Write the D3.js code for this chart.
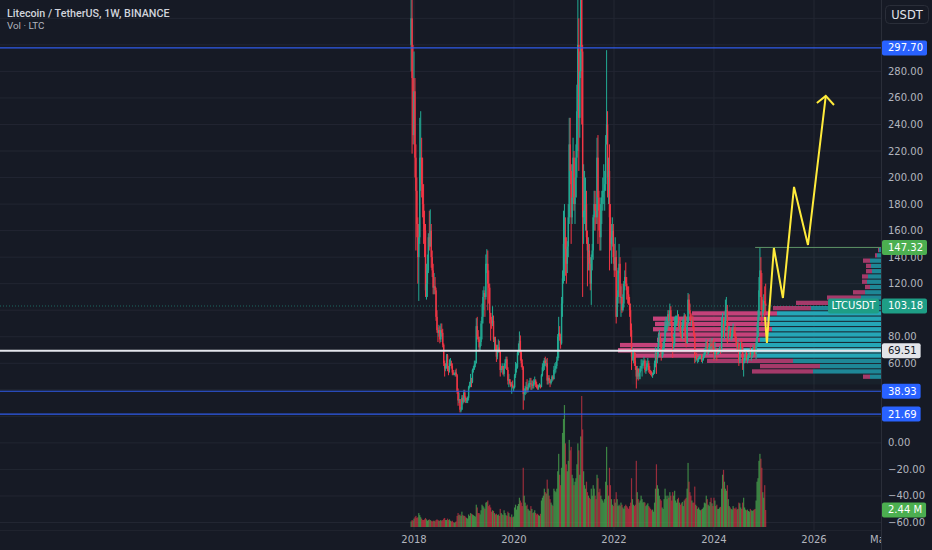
<!DOCTYPE html>
<html><head><meta charset="utf-8">
<script src="https://cdn.jsdelivr.net/npm/d3@7"></script>
<style>html,body{margin:0;padding:0;background:#161a25;overflow:hidden}</style>
</head><body><svg id="c" width="932" height="550"></svg>
<script>
// ---------- DATA (weekly LTC/USDT) ----------
const startWeek = "2017-12-11";
const firstOpen = 300;
const closes = [
320,275,232,
265,215,190,165,140, 155,215,215,195, 180,165,160,115, 120,130,155,148,160, 140,130,117,118, 115,95,85,83, 85,78,85,83,74, 60,56,58,66, 56,55,60,60, 58,53,52,52,53, 51,39,32,33, 25,25,34,31,38,
34,32,32,34, 42,44,47,46, 55,56,59,60, 88,80,78,72,76, 90,95,110,113, 110,135,135,120, 117,98,93,90,92, 78,78,73,65, 70,72,70,55,56, 58,52,56,60, 63,55,47,48, 45,43,44,42,42,
51,56,57,68, 70,77,68,60, 57,37,38,41,42, 40,42,45,45, 44,44,43,46, 47,44,42,41,43, 43,42,51,57, 58,62,60,60,47, 49,47,45,47, 50,48,55,56, 58,62,80,83,80, 75,105,124,150,
155,146,135,148, 170,225,205,170, 185,215,180,185,215, 250,300,245,280, 370,295,170,175,175, 180,155,145,145, 135,120,140,145, 170,180,175,170,215, 185,175,155,180, 185,190,190,195, 225,240,200,205,170, 150,155,160,140,
130,140,95,110,130, 135,110,110,100, 105,120,125,120, 115,112,105,100, 85,65,65,65,62, 58,50,56,50, 53,56,58,60, 60,62,55,55,60, 60,55,54,53, 52,52,53,60,68, 63,70,77,80, 75,65,69,72,
77,88,88,88,97, 92,100,93,80, 72,75,90,92, 92,95,88,89, 82,79,89,91,96, 82,75,90,108, 100,97,92,92,88, 82,64,65,63, 63,64,65,65, 63,63,65,68,70, 76,68,70,71, 75,72,73,72,
67,70,70,67,68, 70,70,69,90, 90,85,88,100, 100,85,85,85,80, 80,85,85,84, 80,76,72,75, 62,70,75,72,62, 62,64,68,64, 64,66,68,66,66, 68,72,70,67, 75,80,95,115, 130,110,100,100,107,
105,103.18];
const highs = [
370,420,300,
295,275,225,200,170, 165,245,250,230, 215,195,175,165, 135,142,158,175,176, 165,145,135,128, 125,117,100,87, 89,88,90,90,86, 75,62,60,67, 67,58,63,64, 62,60,55,53,55, 56,52,41,38, 33,27,36,36,40,
40,35,34,35, 43,46,52,49, 56,58,62,62, 94,95,85,80,80, 92,105,115,118, 115,142,146,145, 130,120,98,95,103, 96,80,80,74, 74,78,77,70,58, 60,58,60,63, 65,65,57,52, 48,46,46,47,43,
52,61,60,70, 75,84,81,70, 63,58,41,43,46, 48,44,47,49, 49,47,47,48, 50,48,46,44,44, 45,44,52,60, 62,64,65,63,64, 51,51,48,48, 51,51,58,60, 61,65,82,95,88, 82,110,130,175,
180,170,155,152, 180,245,245,210, 210,230,220,200,225, 270,335,320,295, 410,413,300,210,205, 200,190,160,155, 150,140,142,150, 172,190,190,180,230, 232,190,180,185, 190,200,210,205, 232,296,250,215,225, 180,165,170,165,
150,155,145,115,132, 150,140,118,120, 112,122,130,136, 125,118,118,110, 105,90,72,70,70, 68,56,58,56, 56,58,63,63, 62,65,63,57,62, 64,62,58,55, 54,53,55,62,72, 68,72,82,85, 82,77,72,76,
79,92,95,94,100, 100,105,103,95, 80,82,95,96, 96,100,97,92, 93,84,93,93,98, 97,83,95,113, 112,105,98,95,96, 90,83,66,68, 64,65,66,66, 67,64,67,71,72, 78,77,72,74, 78,78,79,77,
78,76,72,71,70, 71,73,72,95, 98,94,92,108, 110,104,88,88,86, 82,87,90,87, 88,82,78,78, 76,72,76,78,75, 64,67,70,70, 66,68,70,72,69, 70,74,74,74, 78,90,100,125, 147,140,128,108,112,
118,120];
const lows = [
280,218,225,
225,200,145,155,120, 107,150,190,185, 170,150,140,110, 108,110,128,145,148, 132,125,112,112, 112,92,83,76, 80,75,76,80,72, 58,50,54,56, 54,51,53,58, 56,51,51,51,50, 50,37,28,30, 23,23,25,29,30,
31,30,30,30, 32,41,42,42, 45,53,55,57, 60,78,76,69,70, 73,78,90,100, 95,108,128,100, 105,90,77,86,88, 76,70,70,61, 63,68,68,50,53, 55,51,50,56, 60,55,44,42, 44,42,37,41,39,
41,49,53,56, 66,68,62,57, 55,25,32,36,37, 38,38,41,42, 40,40,41,41, 44,42,41,40,40, 42,41,42,50, 54,55,58,57,44, 44,45,42,44, 46,47,48,52, 53,56,62,64,77, 71,74,95,120,
122,126,120,128, 140,165,195,150, 165,180,175,165,185, 200,220,205,230, 275,240,110,150,165, 160,150,118,130, 130,115,104,130, 138,160,160,165,165, 150,160,145,145, 165,175,180,175, 190,225,185,180,130, 145,135,148,135,
125,130,90,95,105, 128,105,95,98, 99,102,115,118, 108,105,104,95, 80,55,62,60,58, 55,41,48,47, 48,48,54,50, 56,58,53,52,54, 57,53,52,51, 50,49,51,52,57, 52,60,65,74, 72,62,64,66,
70,76,83,84,86, 85,88,90,77, 64,70,73,86, 88,90,86,84, 80,77,78,86,87, 76,72,75,90, 98,93,90,88,86, 80,60,61,62, 60,61,63,63, 61,60,62,64,66, 68,67,66,68, 70,68,70,69,
62,63,66,62,66, 67,68,67,68, 80,80,78,88, 92,75,78,82,78, 77,78,82,81, 78,74,70,70, 58,60,68,70,55, 50,60,62,62, 60,62,64,65,62, 64,66,67,65, 63,72,80,92, 110,100,90,95,98,
95,98];
const volumes = [ // millions of LTC
0.8,1.0,0.9,
1.2,1.4,1.6,1.3,1.4, 2.0,1.7,1.4,1.2, 1.0,1.0,1.1,1.3, 1.1,0.9,1.0,1.1,1.0, 0.9,0.8,0.9,0.9, 0.8,1.0,1.1,1.0, 0.9,0.9,1.0,0.9,1.0, 1.2,1.3,1.0,1.0, 1.2,1.0,1.1,0.9, 0.8,0.9,0.7,0.6,0.7, 0.8,1.6,2.0,1.7, 1.8,1.6,2.2,1.7,1.6,
1.6,1.4,1.3,1.2, 1.8,1.6,2.0,1.9, 1.8,1.7,1.6,1.5, 3.2,2.8,2.0,2.0,1.8, 2.4,3.2,3.0,2.8, 2.6,3.5,3.6,3.8, 3.0,3.2,2.8,2.2,2.4, 2.3,2.0,1.8,1.9, 1.7,1.8,1.6,2.6,2.0, 1.8,1.7,2.4,2.0, 1.7,1.6,2.2,2.0, 1.5,1.4,1.8,1.4,1.5,
2.8,3.2,2.5,3.0, 3.3,4.2,3.8,3.5, 3.0,8.5,4.5,3.5,3.0, 3.2,2.6,2.4,2.3, 3.0,2.6,2.0,2.1, 2.4,2.0,1.8,1.9,1.7, 1.6,1.9,3.8,4.2, 4.5,5.5,5.0,4.8,6.8, 5.5,4.5,4.0,3.5, 3.2,3.0,5.5,5.2, 5.0,5.5,8.0,10.5,7.5, 6.0,8.5,13.5,15.5,
17.5,12.0,9.0,8.0, 9.5,12.5,11.0,11.5, 7.5,7.0,6.0,6.5,7.0, 9.0,12.0,11.0,7.5, 13.0,18.8,14.0,8.0,6.0, 5.5,6.5,5.0,4.5, 4.2,4.0,5.5,4.5, 6.0,5.5,4.5,4.0,7.5, 7.0,5.0,5.5,4.5, 4.0,3.8,3.5,4.0, 6.5,11.5,6.0,4.5,8.5, 6.0,4.0,3.2,3.0,
4.0,3.5,5.0,4.0,3.0, 3.2,3.0,3.5,3.2, 2.8,2.6,3.0,3.2, 3.0,2.8,2.6,3.0, 3.5,7.0,4.0,3.2,3.0, 3.2,9.5,5.0,4.0, 3.5,3.8,4.5,4.0, 3.5,3.6,3.5,3.0,3.2, 3.4,3.0,2.8,2.6, 2.4,2.5,2.2,3.5,5.5, 9.0,6.0,5.5,4.5, 4.0,3.8,2.8,2.6,
4.0,5.5,4.5,4.0,4.5, 4.2,5.0,4.5,3.8, 5.0,4.5,5.2,3.8, 3.5,4.0,4.2,3.5, 3.2,3.4,3.6,3.0,3.8, 4.0,4.2,5.5,9.2, 6.5,5.0,4.5,3.8,3.5, 3.5,5.8,3.2,3.0, 2.6,2.8,2.5,2.4, 2.5,2.6,2.8,3.5,3.4, 4.5,4.0,3.2,3.0, 3.6,4.2,3.4,3.0,
4.2,3.8,3.0,3.2,2.6, 2.6,2.8,2.9,5.5, 7.5,8.2,6.5,5.5, 5.2,6.0,4.0,3.0,2.8, 2.6,2.5,3.0,2.7, 2.6,2.8,2.5,2.6, 3.5,3.4,2.8,2.6,3.5, 4.2,2.8,2.5,2.4, 2.5,2.3,2.2,2.6,2.4, 2.3,2.4,2.5,2.6, 3.8,6.5,7.0,9.5, 10.5,9.8,8.5,5.0,4.2,
6.0,2.44];

// volume profile (fixed range), rows top (147.3) to bottom (~47.9)
const vpTop = 147.3, vpBottom = 47.9;
const vpUp   = [1,2,5.5,5,4.5,6.5,7,5.5,8,10,20,35,52,57,55.5,54.5,57,60.5,62,69,62,44,30.5,34,5.5];
const vpDown = [0.5,1,3.5,2.5,3,3,2.5,2.5,6,17,22.5,19,42.5,57,57.5,59.5,54.5,51.5,68.5,62.5,62,43,30,30.5,3.5];
const vpValueArea = [12, 20];
const vpPoc = 19;
const vpStart = "2022-05-09";

// horizontal levels
const blueLevels = [297.70, 38.93, 21.69];
const whiteLevel = 69.51;
const lastPrice = 103.18;
const highLevel = 147.32, highLevelStart = "2024-10-28";

// yellow projection drawing
const pathDates  = ["2025-01-08","2025-01-22","2025-03-14","2025-05-19","2025-08-08","2025-11-18","2026-03-28"];
const pathPrices = [94.9, 75.3, 146.9, 109.2, 192.9, 149.2, 261.5];
const headDates  = ["2026-01-22","2026-03-28","2026-05-27"];
const headPrices = [256.2, 261.5, 254.7];

// axes (ticks hidden behind the level tags are left out, as in the reference)
const priceTicks = [-60,-40,-20,0,60,80,120,140,160,180,200,220,240,260,280];
const gridPrices = [-60,-40,-20,0,20,40,60,80,100,120,140,160,180,200,220,240,260,280,300,320];
const timeTickDates  = ["2018-01-01","2020-01-01","2022-01-01","2024-01-01","2026-01-01","2027-05-01"];
const timeTickLabels = ["2018","2020","2022","2024","2026","May"];

// ---------- DRAW ----------
const svg = d3.select("#c");
const BG = "#161a25", PR = 881, PB = 530;
const AX = "DejaVu Sans, sans-serif";
const pd = d3.utcParse("%Y-%m-%d");
const x = d3.scaleUtc().domain([pd("2018-01-01"), pd("2026-01-01")]).range([414, 814]);
const y = d3.scaleLinear().domain([-60, 280]).range([522.5, 71.4]);
const yv = d3.scaleLinear().domain([0, 18.8]).range([527, 396]);

svg.append("rect").attr("width",932).attr("height",550).attr("fill",BG);
const defs = svg.append("defs");
defs.append("clipPath").attr("id","pane").append("rect").attr("x",0).attr("y",0).attr("width",PR).attr("height",PB);
defs.append("clipPath").attr("id","taxis").append("rect").attr("x",0).attr("y",PB).attr("width",PR).attr("height",20);
const pane = svg.append("g").attr("clip-path","url(#pane)");

// grid
pane.selectAll(".hg").data(gridPrices).join("line")
  .attr("x1",0).attr("x2",PR).attr("y1",d=>y(d)).attr("y2",d=>y(d))
  .attr("stroke","#222632").attr("stroke-width",1);
pane.selectAll(".vg").data(timeTickDates.slice(0,5)).join("line")
  .attr("x1",d=>x(pd(d))).attr("x2",d=>x(pd(d))).attr("y1",0).attr("y2",PB)
  .attr("stroke","#222632").attr("stroke-width",1);

// candles data
const t0 = pd(startWeek).getTime();
const n = Math.min(closes.length, highs.length, lows.length, volumes.length);
const bars = d3.range(n).map(i => {
  const o = i ? closes[i-1] : firstOpen, c = closes[i];
  return {t: new Date(t0 + i*7*864e5), o, c, h: Math.max(highs[i], o, c), l: Math.min(lows[i], o, c), v: volumes[i], up: c >= o};
});

// volume profile box
const vpx0 = x(pd(vpStart));
pane.append("rect").attr("x",vpx0).attr("y",y(highLevel)).attr("width",PR - vpx0)
  .attr("height",y(44) - y(highLevel)).attr("fill","rgba(70,150,160,0.06)");

// volume bars
pane.selectAll(".vol").data(bars).join("rect")
  .attr("x",d=>x(d.t)-0.6).attr("width",1.2)
  .attr("y",d=>yv(d.v)).attr("height",d=>yv(0)-yv(d.v))
  .attr("fill",d=>d.up ? "rgba(76,175,80,0.72)" : "rgba(232,56,72,0.62)");

// volume profile rows
const step = (vpTop - vpBottom) / vpUp.length;
const wmax = d3.max(vpUp.map((u,i)=>u+vpDown[i]));
const wv = d3.scaleLinear().domain([0, wmax]).range([0, 263]);
const rows = vpUp.map((u,i)=>({i, up:u, down:vpDown[i], pt: vpTop - i*step, pb: vpTop-(i+1)*step}));
const inVA = i => i >= vpValueArea[0] && i <= vpValueArea[1];
const vp = pane.append("g");
rows.forEach(r => {
  const y0 = y(r.pt)+0.5, h = Math.max(1, y(r.pb)-y(r.pt)-1);
  const tealW = wv(r.up), totW = wv(r.up + r.down);
  const poc = r.i === vpPoc;
  vp.append("rect").attr("x",PR-totW).attr("y",y0).attr("width",totW-tealW).attr("height",h)
    .attr("fill", poc ? "#e0588f" : inVA(r.i) ? "#c5427a" : "#a53a6a");
  vp.append("rect").attr("x",PR-tealW).attr("y",y0).attr("width",tealW).attr("height",h)
    .attr("fill", poc ? "#52c4d2" : inVA(r.i) ? "#25a6b7" : "#1e8796");
});

// candles
const cg = pane.append("g");
cg.selectAll("line").data(bars).join("line")
  .attr("x1",d=>x(d.t)).attr("x2",d=>x(d.t)).attr("y1",d=>y(d.h)).attr("y2",d=>y(d.l))
  .attr("stroke",d=>d.up ? "#22ab94" : "#f23645").attr("stroke-width",1);
cg.selectAll("rect").data(bars).join("rect")
  .attr("x",d=>x(d.t)-0.7).attr("width",1.4)
  .attr("y",d=>y(Math.max(d.o,d.c))).attr("height",d=>Math.max(1, Math.abs(y(d.o)-y(d.c))))
  .attr("fill",d=>d.up ? "#22ab94" : "#f23645");

// levels
pane.append("line").attr("x1",0).attr("x2",PR).attr("y1",y(lastPrice)).attr("y2",y(lastPrice))
  .attr("stroke","#22ab94").attr("stroke-opacity",0.55).attr("stroke-dasharray","1 2");
pane.append("line").attr("x1",x(pd(highLevelStart))).attr("x2",PR).attr("y1",y(highLevel)).attr("y2",y(highLevel))
  .attr("stroke","#5f9366").attr("stroke-width",1);
pane.append("line").attr("x1",0).attr("x2",PR).attr("y1",y(whiteLevel)).attr("y2",y(whiteLevel))
  .attr("stroke","#e4e6ec").attr("stroke-width",2);
pane.selectAll(".bl").data(blueLevels).join("line")
  .attr("x1",0).attr("x2",PR).attr("y1",d=>y(d)).attr("y2",d=>y(d))
  .attr("stroke","#2f5bea").attr("stroke-width",1.2);

// yellow projection
const lineGen = d3.line().x(d=>x(pd(d[0]))).y(d=>y(d[1]));
pane.append("path").attr("d", lineGen(pathDates.map((d,i)=>[d,pathPrices[i]])))
  .attr("fill","none").attr("stroke","#ffeb3b").attr("stroke-width",2).attr("stroke-linejoin","miter");
pane.append("path").attr("d", lineGen(headDates.map((d,i)=>[d,headPrices[i]])))
  .attr("fill","none").attr("stroke","#ffeb3b").attr("stroke-width",2);

// header
svg.append("text").attr("x",7).attr("y",16.7).attr("fill","#d1d4dc")
  .attr("font-family","Roboto, sans-serif").attr("font-size",10.75).attr("font-weight",500)
  .text("Litecoin / TetherUS, 1W, BINANCE");
svg.append("text").attr("x",7).attr("y",29.3).attr("fill","#b2b5be")
  .attr("font-family","Roboto, sans-serif").attr("font-size",9.8)
  .text("Vol \u00b7 LTC");

// LTCUSDT tag inside pane
const tagY = y(lastPrice);
svg.append("rect").attr("x",828).attr("y",tagY-7.5).attr("width",51).attr("height",15).attr("rx",2).attr("fill","#1e9e86");
svg.append("text").attr("x",853.5).attr("y",tagY).attr("dy","0.35em").attr("text-anchor","middle")
  .attr("fill","#ffffff").attr("font-family",AX).attr("font-size",10).text("LTCUSDT");

// price axis
svg.append("line").attr("x1",PR+0.5).attr("x2",PR+0.5).attr("y1",0).attr("y2",550).attr("stroke","#2a2e39");
const fmt = d => (d < 0 ? "\u2212" : "") + Math.abs(d).toFixed(2);
svg.selectAll(".pt").data(priceTicks).join("text")
  .attr("x",888).attr("y",d=>y(d)).attr("dy","0.35em")
  .attr("fill","#b2b5be").attr("font-family",AX).attr("font-size",10).text(fmt);

function tag(yy, text, bg, fg) {
  const g = svg.append("g");
  const r = g.append("rect").attr("x",882).attr("y",yy-7.5).attr("height",15).attr("rx",2).attr("fill",bg);
  const t = g.append("text").attr("x",888).attr("y",yy).attr("dy","0.35em").attr("fill",fg)
    .attr("font-family",AX).attr("font-size",10).text(text);
  r.attr("width", t.node().getComputedTextLength() + 10);
}
blueLevels.forEach(v => tag(y(v), v.toFixed(2), "#2962ff", "#ffffff"));
tag(y(highLevel), highLevel.toFixed(2), "#4caf50", "#ffffff");
tag(y(lastPrice), lastPrice.toFixed(2), "#1e9e86", "#ffffff");
tag(y(whiteLevel), whiteLevel.toFixed(2), "#e3e5ea", "#131722");
tag(yv(volumes[n-1]), volumes[n-1].toFixed(2) + " M", "#4caf50", "#ffffff");

// USDT button
svg.append("rect").attr("x",885.5).attr("y",5.5).attr("width",43).attr("height",18).attr("rx",4)
  .attr("fill",BG).attr("stroke","#2a2e39");
svg.append("text").attr("x",907).attr("y",14.5).attr("dy","0.35em").attr("text-anchor","middle")
  .attr("fill","#e0e3eb").attr("font-family",AX).attr("font-size",11.5).text("USDT");

// time axis
svg.append("line").attr("x1",0).attr("x2",PR).attr("y1",PB+0.5).attr("y2",PB+0.5).attr("stroke","#1f232e");
svg.append("g").attr("clip-path","url(#taxis)").selectAll("text").data(timeTickDates).join("text")
  .attr("x",d=>x(pd(d))).attr("y",539.5).attr("dy","0.35em").attr("text-anchor","middle")
  .attr("fill","#b2b5be").attr("font-family",AX).attr("font-size",10)
  .text((d,i)=>timeTickLabels[i]);
</script>
</body></html>
